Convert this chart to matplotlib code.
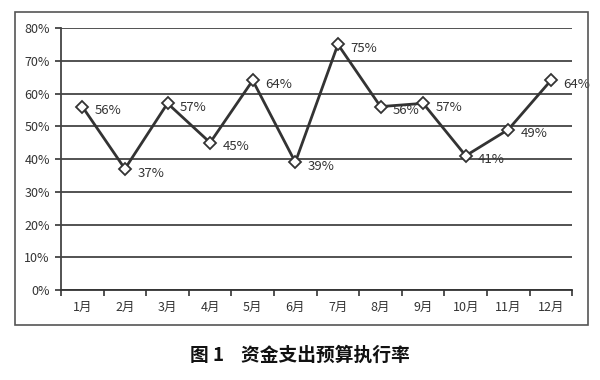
import matplotlib
matplotlib.use("Agg")
import matplotlib.pyplot as plt
from matplotlib.patches import Rectangle
import numpy as np

plt.rcParams['font.family'] = ['Noto Sans CJK SC', 'DejaVu Sans']

months = ["1月", "2月", "3月", "4月", "5月", "6月", "7月", "8月", "9月", "10月", "11月", "12月"]
rates = [56, 37, 57, 45, 64, 39, 75, 56, 57, 41, 49, 64]
yticks = [0, 10, 20, 30, 40, 50, 60, 70, 80]
title = "图 1    资金支出预算执行率"

fig = plt.figure(figsize=(6, 3.8), dpi=100)
# outer chart frame
fig.patches.append(Rectangle((0.025, 0.145), 0.955, 0.824, transform=fig.transFigure,
                             fill=False, edgecolor='#555555', linewidth=1.2))
ax = fig.add_axes([0.1017, 0.2368, 0.852, 0.6895])
x = np.arange(1, len(months) + 1)
ax.plot(x, rates, color='#333333', linewidth=2.0, marker='D', markersize=6,
        markerfacecolor='white', markeredgecolor='#333333', markeredgewidth=1.3, zorder=3)
for xi, v in zip(x, rates):
    ax.annotate(f"{v}%", (xi, v), xytext=(9, -3), textcoords='offset points',
                ha='left', va='center', fontsize=9.5, color='#333333')

ax.set_xlim(0.5, 12.5)
ax.set_ylim(0, 80)
ax.set_yticks(yticks)
ax.set_yticklabels([f"{t}%" for t in yticks], fontsize=9, color='#333333', fontweight='medium')
ax.set_xticks(x)
ax.set_xticklabels(months, fontsize=9, color='#333333', fontweight='medium')
ax.set_xticks(np.arange(0.5, 13, 1), minor=True)
ax.tick_params(axis='x', which='major', length=0, pad=8)
ax.tick_params(axis='x', which='minor', length=4, width=1.2, color='#333333', direction='out')
ax.tick_params(axis='y', length=4, width=1.2, color='#333333', direction='out', pad=4)
ax.grid(axis='y', color='#444444', linewidth=1.3)
ax.set_axisbelow(True)
for s in ['top', 'right']:
    ax.spines[s].set_visible(False)
ax.spines['left'].set_color('#444444')
ax.spines['left'].set_linewidth(1.3)
ax.spines['bottom'].set_color('#333333')
ax.spines['bottom'].set_linewidth(1.3)

fig.text(0.5, 0.065, title, ha='center', va='center', fontsize=13.5, fontweight='bold', color='#111111')
fig.savefig("out.png", dpi=100)
